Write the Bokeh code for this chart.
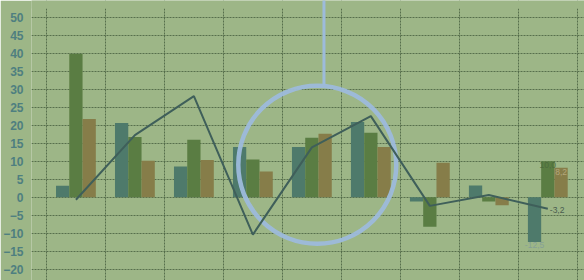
from bokeh.plotting import figure
from bokeh.models import Range1d, FixedTicker, ColumnDataSource, BoxAnnotation
from bokeh.core.properties import value
from bokeh.embed import file_html
from bokeh.resources import INLINE

# ---- data ----
years = ["2000", "2001", "2002", "2003", "2004", "2005", "2006", "2007", "2008"]
series_a = [3.2, 20.7, 8.6, 14.0, 14.0, 21.0, -1.2, 3.3, -12.5]     # teal
series_b = [40.0, 16.8, 16.0, 10.5, 16.6, 18.0, -8.2, -1.2, 10.0]   # green
series_c = [21.8, 10.2, 10.4, 7.2, 17.7, 14.0, 9.6, -2.2, 8.2]      # olive
line_vals = [-0.7, 17.3, 28.2, -10.4, 13.9, 22.6, -2.4, 0.6, -3.2]
y_ticks = list(range(-20, 55, 5))
highlight_year = "2004"

# ---- styles ----
BG = "#9db687"
C_A = "#4e7a6b"
C_B = "#5a7d43"
C_C = "#867d49"
C_LINE = "#3f5f5a"
GRID = "#4b6342"
RING = "#9dbbdb"

xs = list(range(len(years)))
BAR_W = 0.225

p = figure(width=584, height=280, output_backend="svg", toolbar_location=None,
           x_range=Range1d(-0.753, 8.622), y_range=Range1d(-23.2, 54.83),
           min_border_left=29, min_border_right=0, min_border_top=0, min_border_bottom=0)
p.background_fill_color = BG
p.border_fill_color = BG
p.outline_line_color = None

# hide grid lines above the plotting top
p.add_layout(BoxAnnotation(bottom=52.6, fill_color=BG, fill_alpha=1, line_color=None,
                           level="underlay"))

src = ColumnDataSource(dict(x=xs, a=series_a, b=series_b, c=series_c, l=line_vals,
                            xa=[v - BAR_W for v in xs], xc=[v + BAR_W for v in xs]))

p.vbar(x="xa", top="a", bottom=0, width=BAR_W, source=src, fill_color=C_A, line_color=None)
p.vbar(x="x", top="b", bottom=0, width=BAR_W, source=src, fill_color=C_B, line_color=None)
p.vbar(x="xc", top="c", bottom=0, width=BAR_W, source=src, fill_color=C_C, line_color=None)

# highlight ring + leader line
hi = years.index(highlight_year)
p.circle(x=[hi + 0.092], y=[9.04], radius=79, radius_units="screen",
         fill_alpha=0, line_color=RING, line_width=4.5, line_alpha=0.95)
p.segment(x0=[hi + 0.205], y0=[31.3], x1=[hi + 0.205], y1=[60],
          line_color=RING, line_width=3)

p.line(x="x", y="l", source=src, line_color=C_LINE, line_width=2)

# value labels on last category
last = len(years) - 1
def fmt(v):
    return f"{v:.1f}".replace(".", ",")

p.text(x=[last], y=[series_b[last]], text=[fmt(series_b[last])], text_align="center",
       text_baseline="top", y_offset=1, text_font=value("Liberation Sans"),
       text_font_size="8.5px", text_color="#4c6b3d")
p.text(x=[last + BAR_W], y=[series_c[last]], text=[fmt(series_c[last])], text_align="center",
       text_baseline="top", y_offset=1, text_font=value("Liberation Sans"),
       text_font_size="8.5px", text_color="#b3a77c")
p.text(x=[last - BAR_W], y=[series_a[last]], text=[fmt(series_a[last])], text_align="center",
       text_baseline="top", y_offset=0, text_font=value("Liberation Sans"),
       text_font_size="8.5px", text_color="#86a096")
p.text(x=[last], y=[line_vals[last]], text=[fmt(line_vals[last])], text_align="left",
       text_baseline="middle", x_offset=2, y_offset=1, text_font=value("Liberation Sans"),
       text_font_size="8.5px", text_color="#4a5d50")

# grids
p.xgrid.ticker = FixedTicker(ticks=[v + 0.5 for v in range(-1, len(years))])
p.ygrid.ticker = FixedTicker(ticks=y_ticks)
for g in (p.xgrid, p.ygrid):
    g.grid_line_color = GRID
    g.grid_line_dash = "2 1"
    g.grid_line_width = 1
    g.grid_line_alpha = 0.85

# axes
p.yaxis.ticker = FixedTicker(ticks=y_ticks)
p.yaxis.axis_line_color = None
p.yaxis.major_tick_line_color = None
p.yaxis.minor_tick_line_color = None
p.yaxis.major_label_standoff = 2
p.yaxis.major_label_text_font = "Liberation Sans"
p.yaxis.major_label_text_font_size = "12px"
p.yaxis.major_label_text_font_style = "bold"
p.yaxis.major_label_text_color = "#4e7f80"

p.xaxis.ticker = FixedTicker(ticks=xs)
p.xaxis.major_label_overrides = {i: y for i, y in enumerate(years)}
p.xaxis.fixed_location = -21.54
p.xaxis.axis_line_color = None
p.xaxis.major_tick_line_color = None
p.xaxis.minor_tick_line_color = None
p.xaxis.major_label_standoff = 2
p.xaxis.major_label_text_font = "Liberation Sans"
p.xaxis.major_label_text_font_size = "12px"
p.xaxis.major_label_text_color = "#3d5656"

open("out.html", "w").write(file_html(p, INLINE))
